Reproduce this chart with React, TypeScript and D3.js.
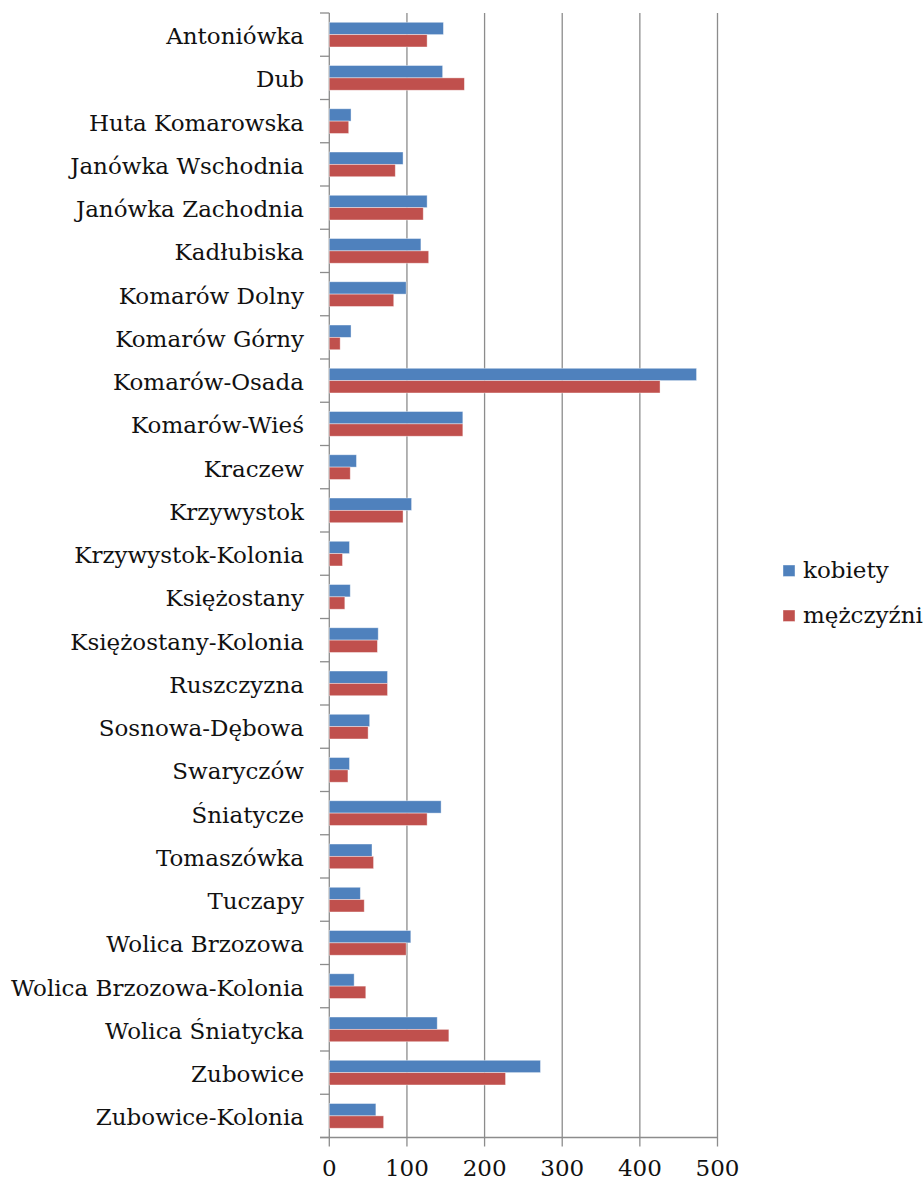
import React from "react";
import * as d3 from "d3";

const categories = [
  "Antoniówka", "Dub", "Huta Komarowska", "Janówka Wschodnia", "Janówka Zachodnia",
  "Kadłubiska", "Komarów Dolny", "Komarów Górny", "Komarów-Osada", "Komarów-Wieś",
  "Kraczew", "Krzywystok", "Krzywystok-Kolonia", "Księżostany", "Księżostany-Kolonia",
  "Ruszczyzna", "Sosnowa-Dębowa", "Swaryczów", "Śniatycze", "Tomaszówka", "Tuczapy",
  "Wolica Brzozowa", "Wolica Brzozowa-Kolonia", "Wolica Śniatycka", "Zubowice", "Zubowice-Kolonia",
];
const kobiety = [147, 146, 28, 95, 126, 118, 99, 28, 473, 172, 35, 106, 26, 27, 63, 75, 52, 26, 144, 55, 40, 105, 32, 139, 272, 60];
const mezczyzni = [126, 174, 25, 85, 121, 128, 83, 14, 426, 172, 27, 95, 17, 20, 62, 75, 50, 24, 126, 57, 45, 99, 47, 154, 227, 70];
const seriesNames = ["kobiety", "mężczyźni"];
const seriesColors = ["#4F81BD", "#C0504D"];
const xTicks = [0, 100, 200, 300, 400, 500];

const FONT = "'DejaVu Serif', serif";

export default function App() {
  const width = 923, height = 1182;
  const x = d3.scaleLinear().domain([0, 500]).range([329.3, 717.5]);
  const y = d3.scaleBand<string>().domain(categories).range([13, 1137.5]).paddingInner(0).paddingOuter(0);
  const inner = d3.scaleBand<string>().domain(seriesNames).range([0, y.bandwidth()]).paddingInner(0).paddingOuter(0.75);
  const data = [kobiety, mezczyzni];
  const grid = "#8c8c8c";
  const top = 13, bottom = 1137.5;
  const boundaries = d3.range(categories.length + 1).map((i) => top + i * y.step());

  return (
    <svg width={width} height={height} style={{ display: "block", position: "absolute", left: 0, top: 0 }}>
      <rect x={0} y={0} width={width} height={height} fill="#fff" />
      {xTicks.map((t) => (
        <line key={"g" + t} x1={x(t)} x2={x(t)} y1={top} y2={bottom + 9} stroke={grid} strokeWidth={1.3} />
      ))}
      <line x1={320} x2={x(500)} y1={bottom} y2={bottom} stroke={grid} strokeWidth={1.3} />
      {boundaries.map((b, i) => (
        <line key={"t" + i} x1={320} x2={x(0)} y1={b} y2={b} stroke={grid} strokeWidth={1.3} />
      ))}
      {categories.map((c, i) => (
        <g key={c}>
          {data.map((s, j) => (
            <rect
              key={j}
              x={x(0)}
              y={(y(c) as number) + (inner(seriesNames[j]) as number)}
              width={x(s[i]) - x(0)}
              height={inner.bandwidth()}
              fill={seriesColors[j]}
              stroke="#ffffff"
              strokeOpacity={0.5}
              strokeWidth={0.8}
            />
          ))}
          <text
            x={304}
            y={(y(c) as number) + y.bandwidth() / 2 + 9.5}
            textAnchor="end"
            fontFamily={FONT}
            fontSize={23}
            fill="#111"
          >
            {c}
          </text>
        </g>
      ))}
      {xTicks.map((t) => (
        <text key={"l" + t} x={x(t)} y={1176} textAnchor="middle" fontFamily={FONT} fontSize={23} fill="#111">
          {t}
        </text>
      ))}
      {seriesNames.map((n, j) => (
        <g key={n}>
          <rect x={783} y={565 + j * 45} width={12} height={11.5} fill={seriesColors[j]} stroke="#fff" strokeOpacity={0.5} strokeWidth={0.8} />
          <text x={803} y={577.5 + j * 45} fontFamily={FONT} fontSize={23} fill="#111">
            {n}
          </text>
        </g>
      ))}
    </svg>
  );
}
